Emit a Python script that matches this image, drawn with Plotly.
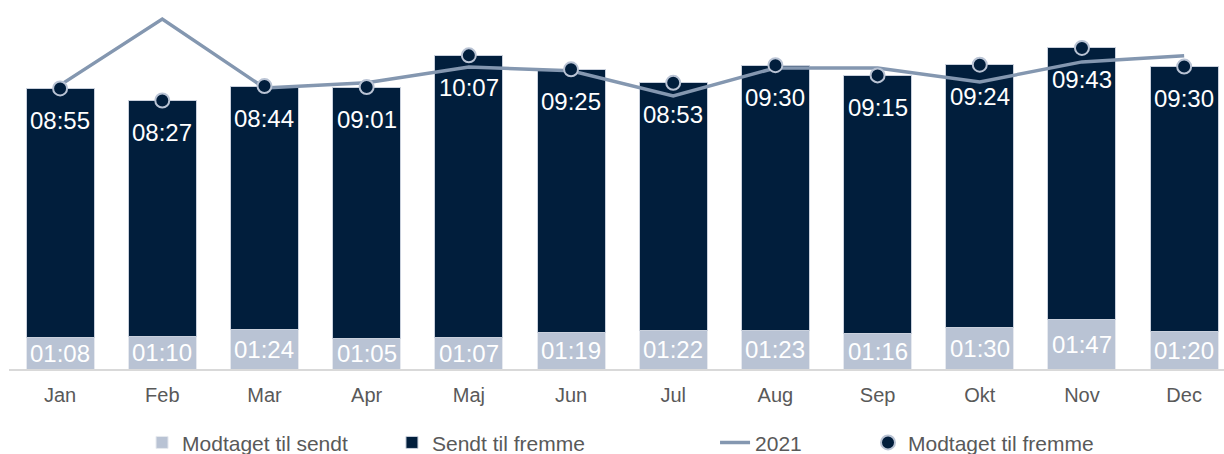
import plotly.graph_objects as go

months = ["Jan", "Feb", "Mar", "Apr", "Maj", "Jun", "Jul", "Aug", "Sep", "Okt", "Nov", "Dec"]
modtaget_til_sendt = ["01:08", "01:10", "01:24", "01:05", "01:07", "01:19", "01:22", "01:23", "01:16", "01:30", "01:47", "01:20"]
sendt_til_fremme = ["08:55", "08:27", "08:44", "09:01", "10:07", "09:25", "08:53", "09:30", "09:15", "09:24", "09:43", "09:30"]
line_2021_min = [610, 752, 604, 615, 649, 641, 587, 647, 647, 617, 660, 673]

def to_min(s):
    h, m = s.split(":")
    return int(h) * 60 + int(m)

bottom = [to_min(s) for s in modtaget_til_sendt]
top = [to_min(s) for s in sendt_til_fremme]
total = [b + t for b, t in zip(bottom, top)]

LIGHT = "#b9c3d4"
DARK = "#011e3c"
LINE = "#8497b0"
TXT = "#595959"
FONT = "Liberation Sans, Arial, sans-serif"

fig = go.Figure()
fig.add_trace(go.Bar(x=months, y=bottom, name="Modtaget til sendt", marker=dict(color=LIGHT, line=dict(color="#e6e9ef", width=1)),
                     legend="legend", hoverinfo="skip"))
fig.add_trace(go.Bar(x=months, y=top, name="Sendt til fremme", marker=dict(color=DARK, line=dict(color="#c9d0dc", width=1)),
                     legend="legend2", hoverinfo="skip"))
fig.add_trace(go.Scatter(x=months, y=line_2021_min, name="2021", mode="lines", line=dict(color=LINE, width=3.5),
                         legend="legend3", hoverinfo="skip"))
fig.add_trace(go.Scatter(x=months, y=total, name="Modtaget til fremme", mode="markers",
                         marker=dict(color=DARK, size=14, line=dict(color=LIGHT, width=2)),
                         legend="legend4", hoverinfo="skip"))

annotations = []
for m, b, t, tot, sb, st in zip(months, bottom, top, total, modtaget_til_sendt, sendt_til_fremme):
    annotations.append(dict(x=m, y=b / 2, text=sb, showarrow=False, yanchor="middle",
                            font=dict(family=FONT, size=24, color="white")))
    annotations.append(dict(x=m, y=tot, yshift=-32, text=st, showarrow=False, yanchor="middle",
                            font=dict(family=FONT, size=24, color="white")))

leg_common = dict(orientation="h", yanchor="middle", y=-0.2, xanchor="left",
                  font=dict(family=FONT, size=21, color=TXT), bgcolor="rgba(0,0,0,0)")
fig.update_layout(
    width=1224, height=454,
    margin=dict(l=9, r=0, t=0, b=85, autoexpand=False),
    paper_bgcolor="white", plot_bgcolor="white",
    barmode="stack", bargap=0.335,
    font=dict(family=FONT, color=TXT),
    xaxis=dict(range=[-0.5, 11.39], showline=True, linecolor="#d9d9d9", linewidth=2, automargin=False,
               ticks="", ticklabelstandoff=7, tickfont=dict(family=FONT, size=20, color=TXT), showgrid=False),
    yaxis=dict(range=[0, 793], visible=False, showgrid=False, zeroline=False, automargin=False),
    annotations=annotations,
    showlegend=True,
    legend=dict(x=0.1095, **leg_common),
    legend2=dict(x=0.3152, **leg_common),
    legend3=dict(x=0.5811, **leg_common),
    legend4=dict(x=0.7070, **leg_common),
)

fig.write_html("out.html", config={"displayModeBar": False},
               post_script="document.body.style.margin='0';document.body.style.overflow='hidden';")
